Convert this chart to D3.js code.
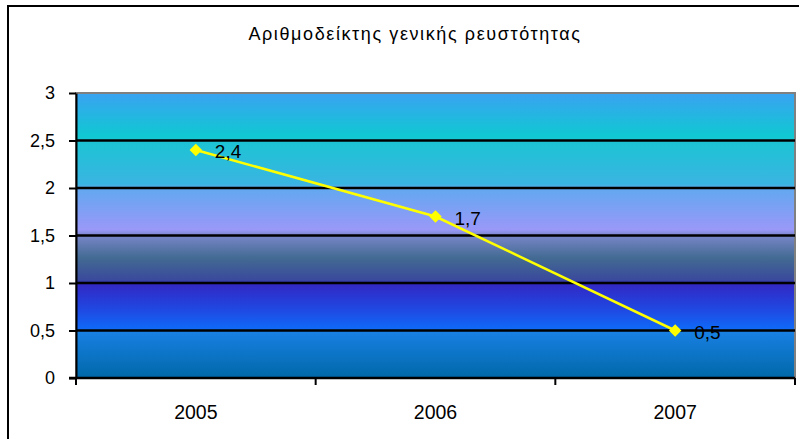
<!DOCTYPE html>
<html>
<head>
<meta charset="utf-8">
<script src="https://cdn.jsdelivr.net/npm/d3@7"></script>
<style>
  html, body { margin: 0; padding: 0; background: #fff; }
  svg { display: block; font-family: "Liberation Sans", Arial, sans-serif; }
</style>
</head>
<body>
<svg id="chart" width="799" height="439"></svg>
<script>
// Liquidity ratio by year
const years = ["2005", "2006", "2007"];
const ratio = [2.4, 1.7, 0.5];
const yTicks = [0, 0.5, 1, 1.5, 2, 2.5, 3];
const title = "Αριθμοδείκτης γενικής ρευστότητας";

const fmt = v => String(v).replace(".", ",");

const svg = d3.select("#chart");
const plot = { left: 76, top: 93, right: 795, bottom: 378 };

// Outer chart frame
svg.append("rect")
  .attr("x", 8).attr("y", 6).attr("width", 820).attr("height", 460)
  .attr("fill", "#fff").attr("stroke", "#000").attr("stroke-width", 2);

// Title
svg.append("text")
  .attr("x", 415).attr("y", 40)
  .attr("text-anchor", "middle")
  .attr("font-size", 18)
  .attr("letter-spacing", 1.6)
  .attr("fill", "#000")
  .text(title);

const x = d3.scaleBand().domain(years).range([plot.left, plot.right]);
const y = d3.scaleLinear().domain([0, 3]).range([plot.bottom, plot.top]);

// Background gradient of the plot area
const defs = svg.append("defs");
const grad = defs.append("linearGradient")
  .attr("id", "bg").attr("x1", 0).attr("y1", 0).attr("x2", 0).attr("y2", 1);
const stops = [
  [0.00, "#3aa2f2"], [0.15, "#10c8d2"], [0.17, "#1cc4d4"],
  [0.32, "#3ab4e2"], [0.335, "#62a8f0"], [0.48, "#9a98f8"],
  [0.50, "#7886c8"], [0.58, "#426a92"], [0.655, "#3a4a9c"],
  [0.67, "#3228c4"], [0.76, "#2048e2"], [0.825, "#1068f6"],
  [0.84, "#1880e2"], [1.00, "#0068a8"]
];
stops.forEach(([o, c]) => grad.append("stop").attr("offset", o).attr("stop-color", c));

svg.append("rect")
  .attr("x", plot.left).attr("y", plot.top)
  .attr("width", plot.right - plot.left).attr("height", plot.bottom - plot.top)
  .attr("fill", "url(#bg)")
  .attr("stroke", "#808080").attr("stroke-width", 2);

// Horizontal grid lines
svg.append("g").selectAll("line")
  .data(yTicks.filter(t => t > 0 && t < 3))
  .join("line")
  .attr("x1", plot.left).attr("x2", plot.right)
  .attr("y1", d => y(d)).attr("y2", d => y(d))
  .attr("stroke", "#000").attr("stroke-width", 2.5);

// Y axis
const yAxis = svg.append("g")
  .attr("transform", `translate(${plot.left},0)`)
  .call(d3.axisLeft(y).tickValues(yTicks).tickFormat(fmt).tickSizeInner(7).tickSizeOuter(0).tickPadding(14));
yAxis.select(".domain").attr("stroke", "#000").attr("stroke-width", 2);
yAxis.selectAll(".tick line").attr("stroke", "#000").attr("stroke-width", 2);
yAxis.selectAll(".tick text").attr("font-size", 18).attr("fill", "#000")
  .attr("font-family", "Liberation Sans, Arial, sans-serif");

// X axis with ticks at band boundaries
const xAxis = svg.append("g")
  .attr("transform", `translate(0,${plot.bottom})`);
xAxis.append("line")
  .attr("x1", plot.left - 7).attr("x2", plot.right)
  .attr("y1", 0).attr("y2", 0)
  .attr("stroke", "#000").attr("stroke-width", 2.5);
const bounds = years.map(d => x(d)).concat([x(years[years.length - 1]) + x.bandwidth()]);
xAxis.selectAll("line.tk").data(bounds).join("line")
  .attr("class", "tk")
  .attr("x1", d => d).attr("x2", d => d)
  .attr("y1", 0).attr("y2", 7)
  .attr("stroke", "#000").attr("stroke-width", 2);
xAxis.selectAll("text").data(years).join("text")
  .attr("x", d => x(d) + x.bandwidth() / 2)
  .attr("y", 41)
  .attr("text-anchor", "middle")
  .attr("font-size", 19.5)
  .attr("fill", "#000")
  .text(d => d);

// Series line
const pts = years.map((d, i) => ({ year: d, v: ratio[i] }));
const cx = d => x(d.year) + x.bandwidth() / 2;

svg.append("path")
  .datum(pts)
  .attr("fill", "none")
  .attr("stroke", "#ffff00")
  .attr("stroke-width", 2.5)
  .attr("d", d3.line().x(cx).y(d => y(d.v)));

// Diamond markers
svg.append("g").selectAll("path")
  .data(pts)
  .join("path")
  .attr("transform", d => `translate(${cx(d)},${y(d.v)})`)
  .attr("d", d3.symbol().type(d3.symbolDiamond2).size(100))
  .attr("fill", "#ffff00");

// Value labels
svg.append("g").selectAll("text")
  .data(pts)
  .join("text")
  .attr("x", d => cx(d) + 19)
  .attr("y", d => y(d.v) + 8)
  .attr("font-size", 19)
  .attr("fill", "#000")
  .text(d => fmt(d.v));
</script>
</body>
</html>
